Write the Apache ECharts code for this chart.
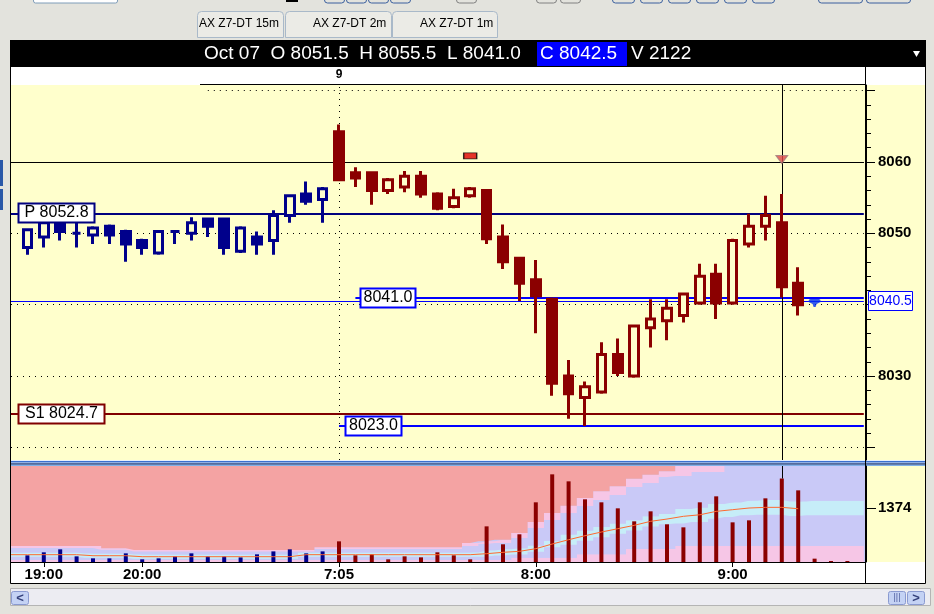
<!DOCTYPE html>
<html><head><meta charset="utf-8">
<script src="https://cdn.jsdelivr.net/npm/echarts@6/dist/echarts.min.js"></script>
<style>html,body{margin:0;padding:0;background:#e3e3dd;}#c{width:934px;height:614px;}</style>
</head><body><div id="c"></div><script>
// ---------- DATA ----------
const slots = ['0','1','2','3','4','5','6','7','8','9','10','11','12','13','14','15','16','17','18','19','20','21','22','23','24','25','26','27','28','29','30','31','32','33','34','35','36','37','38','39','40','41','42','43','44','45','46','47','48','49','50','51','52'];
const tickSlots = [2, 8, 20, 32, 44];
const tickTexts = ['19:00', '20:00', '7:05', '8:00', '9:00'];
const dayMarkSlot = 20, dayMarkText = '9';
const headerDate = 'Oct 07';

// [open, close, low, high]
const nightStart = 1;
const nightOHLC = [
 [8048.0,8050.5,8047.0,8050.5],
 [8049.5,8051.5,8048.0,8051.75],
 [8051.5,8050.25,8049.0,8051.75],
 [8050.0,8050.0,8048.0,8051.5],
 [8049.75,8050.75,8048.5,8051.0],
 [8051.0,8049.75,8048.5,8051.25],
 [8050.25,8048.5,8046.0,8050.5],
 [8049.0,8048.0,8047.0,8049.25],
 [8047.25,8050.25,8047.0,8050.25],
 [8050.25,8050.25,8048.5,8050.25],
 [8050.0,8051.5,8049.0,8052.25],
 [8052.0,8051.0,8049.5,8052.0],
 [8052.0,8048.0,8047.0,8052.0],
 [8047.5,8050.75,8047.25,8051.0],
 [8049.5,8048.5,8047.0,8050.25],
 [8049.0,8052.5,8047.0,8053.25],
 [8052.5,8055.25,8051.5,8055.25],
 [8055.5,8054.5,8054.0,8057.25],
 [8054.75,8056.25,8051.5,8056.5]
];
const dayStart = 20;
const dayOHLC = [
 [8064.25,8057.5,8057.5,8065.25],
 [8058.5,8057.75,8056.5,8059.25],
 [8058.5,8056.0,8054.0,8058.5],
 [8056.0,8057.5,8055.5,8057.75],
 [8056.5,8058.0,8055.75,8058.75],
 [8058.0,8055.5,8055.0,8058.75],
 [8055.5,8053.5,8053.25,8055.75],
 [8053.75,8055.0,8053.5,8056.25],
 [8055.25,8056.25,8055.0,8056.5],
 [8056.0,8049.25,8048.5,8056.0],
 [8049.5,8046.0,8045.0,8051.25],
 [8046.5,8043.0,8040.5,8046.5],
 [8043.5,8041.25,8036.0,8046.25],
 [8040.75,8029.0,8027.25,8041.0],
 [8030.0,8027.5,8024.0,8032.25],
 [8027.0,8028.5,8023.0,8029.25],
 [8027.75,8033.0,8027.5,8034.75],
 [8033.0,8030.5,8030.0,8035.25],
 [8030.0,8037.0,8029.75,8037.0],
 [8036.75,8038.0,8034.0,8040.75],
 [8037.75,8039.5,8035.0,8040.75],
 [8038.5,8041.5,8037.5,8041.5],
 [8040.25,8044.0,8040.0,8045.75],
 [8044.25,8040.25,8038.0,8045.75],
 [8040.25,8049.0,8040.0,8049.25],
 [8048.5,8051.0,8048.0,8052.75],
 [8051.0,8052.5,8049.0,8055.25],
 [8051.5,8042.5,8041.0,8055.5],
 [8043.0,8040.0,8038.5,8045.25]
];
const cursorSlot = 47;
const liveSlot = 49, livePrice = 8040.25;
const flagSlot = 28, flagPrice = 8060.85;
const arrowPrice = 8060.35;

// volumes from slot 1
const volStart = 1;
const volumes = [170,246,322,144,93,93,220,68,93,144,220,144,144,118,195,270,322,220,270,
 525,170,195,68,144,118,246,170,68,906,450,704,1517,2228,2050,1593,1517,1364,1034,
 1288,958,881,1517,1669,1008,1059,1618,2122,1821,85,25,25];
// volume moving average, slots 0..48
const volMA = [186,186,186,186,186,160,160,160,135,135,135,135,135,135,135,135,135,135,
 186,186,186,186,186,186,186,186,186,186,186,
 211,246,271,338,457,566,668,762,846,932,1034,1092,1161,1200,1287,1330,1372,1389,1389,1355];
// band edges, slots 0..52
const bandPinkLo = [50,50,50,50,50,50,50,50,50,50,50,50,50,50,50,50,50,50,50,50,50,50,50,50,50,50,50,50,50,50,50,
 110,110,110,110,200,200,200,330,330,330,406,406,406,406,406,406,406,406,406,406,406,406];
const bandCyanLo = [131,131,131,131,131,105,105,105,80,80,80,80,80,80,80,80,80,80,
 131,131,131,131,131,131,131,131,131,131,131,
 131,166,191,258,377,436,538,632,716,802,904,962,976,1015,1102,1145,1187,1204,1204,1170,1187,1187,1187,1187];
const bandCyanHi = [241,241,241,241,241,215,215,215,190,190,190,190,190,190,190,190,190,190,
 241,241,241,241,241,241,241,241,241,241,241,
 291,326,351,418,537,696,798,892,976,1062,1164,1222,1346,1385,1472,1515,1557,1574,1574,1540,1557,1557,1557,1557];
const bandLavHi = [356,356,356,356,356,356,310,310,270,270,270,270,270,270,270,270,270,270,270,
 330,330,330,330,330,330,330,330,330,
 406,457,483,610,864,1067,1245,1422,1575,1702,1905,2007,2159,2184,2286,2286,
 2440,2440,2440,2440,2440,2440,2440,2440,2440];
const bandPinkHi = [406,406,406,406,406,406,347,347,305,305,305,305,305,305,305,305,305,305,305,
 373,373,373,373,373,373,373,373,373,
 483,526,566,737,1016,1245,1430,1626,1796,1923,2116,2217,2304,
 2440,2440,2440,2440,2440,2440,2440,2440,2440,2440,2440,2440];
const volTop = 2440;
const volMark = 1374;

// price scale & levels
const priceMin = 8018.23, priceMax = 8070.79;
const majorTicks = [8020,8030,8040,8050,8060,8070];
const labelTicks = [8030,8040,8050,8060];
const minorTicks = [8022,8024,8026,8028,8032,8034,8036,8038,8042,8044,8046,8048,8052,8054,8056,8058,8062,8064,8066,8068];
const gridLevels = [8020,8030,8040,8050,8060];
const topGridLevel = 8070, topGridStartSlot = 12;
const pivotLevel = 8052.8;
const s1Level = 8024.7;
const levelA = 8041.0, levelAStart = 21, levelALabelSlot = 23;
const levelB = 8023.0, levelBStart = 20, levelBLabelSlot = 22;
const lastPrice = 8040.5;
const refLevel = 8060;

// ---------- COLOURS ----------
const NAVY = '#00008b', MAROON = '#8b0000', BG = '#ffffcc';
const PINK = '#f6c6e6', LAV = '#c9c9f7', CYAN = '#c6edf8', SALMON = '#f4a3a3';
const FONT = 'Liberation Sans';

const nightData = nightOHLC.map((d, k) => [nightStart + k, d[0], d[1], d[2], d[3]]);
const dayData = dayOHLC.map((d, k) => [dayStart + k, d[0], d[1], d[2], d[3]]);
const volData = slots.map((s, i) => {
  const k = i - volStart;
  if (k < 0 || k >= volumes.length) return '-';
  return {value: volumes[k], itemStyle: {color: i < dayStart ? NAVY : MAROON}};
});
const layer = (hi, lo) => slots.map((s, i) => hi[i] - (lo ? lo[i] : 0));
const topArr = slots.map(() => volTop);
const bandSeries = [
  [layer(bandPinkLo), PINK],
  [layer(bandCyanLo, bandPinkLo), LAV],
  [layer(bandCyanHi, bandCyanLo), CYAN],
  [layer(bandLavHi, bandCyanHi), LAV],
  [layer(bandPinkHi, bandLavHi), PINK],
  [layer(topArr, bandPinkHi), SALMON]
].map(([d, c]) => ({
  type: 'line', xAxisIndex: 1, yAxisIndex: 2, stack: 'bands', step: 'middle', data: d,
  symbol: 'none', silent: true, z: 1, lineStyle: {width: 0, color: c}, areaStyle: {color: c, opacity: 1}
}));

const dotted = {type: [1, 5], color: '#000', width: 1};
const candleStyle = (c) => ({color: BG, color0: c, borderColor: c, borderColor0: c, borderWidth: 3});
const plain = (v) => String(v);

const option = {
  animation: false,
  grid: [
    {left: 11, top: 85, width: 852.8, height: 375},
    {left: 11, top: 466, width: 852.8, height: 96}
  ],
  xAxis: [
    {type: 'category', gridIndex: 0, data: slots, boundaryGap: false, position: 'top',
     axisLine: {show: false}, axisTick: {show: false}, splitLine: {show: false},
     axisLabel: {interval: (i) => i === dayMarkSlot, formatter: () => dayMarkText,
       fontWeight: 'bold', fontSize: 12, fontFamily: FONT, color: '#000', margin: 4}},
    {type: 'category', gridIndex: 1, data: slots, boundaryGap: false, position: 'bottom',
     axisLine: {show: true, lineStyle: {color: '#000', width: 1}},
     axisTick: {show: true, interval: (i) => tickSlots.includes(i), length: 5, lineStyle: {color: '#000'}},
     splitLine: {show: false},
     axisLabel: {interval: (i) => tickSlots.includes(i),
       formatter: (v, i) => { const k = tickSlots.indexOf(Number(v)); return k >= 0 ? tickTexts[k] : ''; },
       fontWeight: 'bold', fontSize: 15, fontFamily: FONT, color: '#000', margin: 5}}
  ],
  yAxis: [
    {type: 'value', gridIndex: 0, position: 'right', offset: 2.2, min: priceMin, max: priceMax,
     axisLine: {show: true, lineStyle: {color: '#000', width: 1}}, splitLine: {show: false},
     axisTick: {show: true, customValues: majorTicks, length: 9, lineStyle: {color: '#000'}},
     axisLabel: {customValues: labelTicks, formatter: plain, margin: 12, fontWeight: 'bold', fontSize: 15, fontFamily: FONT, color: '#000'}},
    {type: 'value', gridIndex: 0, position: 'right', offset: 2.2, min: priceMin, max: priceMax,
     axisLine: {show: false}, splitLine: {show: false},
     axisTick: {show: true, customValues: minorTicks, length: 5, lineStyle: {color: '#000'}},
     axisLabel: {show: false}},
    {type: 'value', gridIndex: 1, position: 'right', offset: 2.2, min: 0, max: volTop,
     axisLine: {show: true, lineStyle: {color: '#000', width: 1}}, splitLine: {show: false},
     axisTick: {show: true, customValues: [volMark], length: 10, lineStyle: {color: '#000'}},
     axisLabel: {customValues: [volMark], formatter: plain, margin: 12, fontWeight: 'bold', fontSize: 15, fontFamily: FONT, color: '#000'}}
  ],
  series: [
    {type: 'candlestick', name: 'night', xAxisIndex: 0, yAxisIndex: 0, data: nightData,
     encode: {x: 0, y: [1, 2, 3, 4]}, barWidth: 9, silent: true, z: 5, itemStyle: candleStyle(NAVY)},
    {type: 'candlestick', name: 'day', xAxisIndex: 0, yAxisIndex: 0, data: dayData,
     encode: {x: 0, y: [1, 2, 3, 4]}, barWidth: 9, silent: true, z: 5, itemStyle: candleStyle(MAROON)},
    {type: 'scatter', xAxisIndex: 0, yAxisIndex: 0, data: [[flagSlot, flagPrice]], symbol: 'rect', symbolSize: [13, 6],
     silent: true, z: 6, itemStyle: {color: '#e00000', borderColor: '#000', borderWidth: 1},
     markLine: {silent: true, symbol: ['none', 'none'], label: {show: false}, z: 3,
       data: [
         ...gridLevels.map(v => ({yAxis: v, lineStyle: dotted})),
         [{coord: [topGridStartSlot, topGridLevel], lineStyle: dotted}, {coord: [52, topGridLevel]}],
         {xAxis: dayMarkSlot, lineStyle: dotted},
         {yAxis: refLevel, lineStyle: {type: 'solid', color: '#000', width: 1}},
         {yAxis: pivotLevel, lineStyle: {type: 'solid', color: '#000080', width: 2}},
         {yAxis: s1Level, lineStyle: {type: 'solid', color: '#800000', width: 2}},
         {yAxis: lastPrice, lineStyle: {type: 'solid', color: '#0000ff', width: 1}},
         [{coord: [levelAStart, levelA], lineStyle: {type: 'solid', color: '#0000ff', width: 2}}, {coord: [52, levelA]}],
         [{coord: [levelBStart, levelB], lineStyle: {type: 'solid', color: '#0000ff', width: 2}}, {coord: [52, levelB]}],
         {xAxis: cursorSlot, lineStyle: {type: 'solid', color: '#000', width: 1}}
       ]}},
    {type: 'scatter', xAxisIndex: 0, yAxisIndex: 0, data: [[cursorSlot, arrowPrice]], symbol: 'triangle', symbolRotate: 180,
     symbolSize: [12, 8], silent: true, z: 7, itemStyle: {color: '#e04848', borderColor: '#a08080', borderWidth: 1}},
    {type: 'scatter', xAxisIndex: 0, yAxisIndex: 0, data: [[liveSlot, livePrice]],
     symbol: 'path://M2,0 L10,0 Q12,0 12,2 L12,3 L8,5 L7,8 L5,8 L4,5 L0,3 L0,2 Q0,0 2,0 Z',
     symbolSize: [12, 8], silent: true, z: 7, itemStyle: {color: '#0030f0'}},
    ...bandSeries,
    {type: 'bar', xAxisIndex: 1, yAxisIndex: 2, data: volData, barWidth: 4, silent: true, z: 3,
     markLine: {silent: true, symbol: ['none', 'none'], label: {show: false},
       data: [[{coord: [cursorSlot, volTop], lineStyle: {type: 'solid', color: '#000', width: 1}},
               {coord: [cursorSlot, volumes[cursorSlot - volStart]]}]]}},
    {type: 'line', xAxisIndex: 1, yAxisIndex: 2, data: volMA, symbol: 'none', silent: true, z: 4,
     lineStyle: {color: '#ff6a30', width: 1}}
  ]
};

const chart = echarts.init(document.getElementById('c'));
chart.setOption(option);

// ---------- decorations / annotation boxes ----------
const X = (i) => chart.convertToPixel({xAxisIndex: 0}, i);
const Y = (v) => chart.convertToPixel({yAxisIndex: 0}, v);
const txt = (x, y, text, o) => Object.assign({type: 'text', x: x, y: y, z: 60,
  style: Object.assign({text: text, fill: '#000', fontSize: 16, fontFamily: FONT, verticalAlign: 'middle', align: 'left'}, o || {})});
const rect = (x, y, w, h, style, z, r) => ({type: 'rect', z: z === undefined ? -50 : z,
  shape: {x: x, y: y, width: w, height: h, r: r || 0}, style: style});
const line = (x1, y1, x2, y2, stroke, w, z) => ({type: 'line', z: z === undefined ? -40 : z,
  shape: {x1: x1, y1: y1, x2: x2, y2: y2}, style: {stroke: stroke, lineWidth: w || 1}});

const cur = dayOHLC[cursorSlot - dayStart];
const curVol = volumes[cursorSlot - volStart];
const hdrLeft = headerDate + '  O ' + cur[0].toFixed(1) + '  H ' + cur[3].toFixed(1) + '  L ' + cur[2].toFixed(1);

const els = [];
els.push(rect(0, 0, 934, 614, {fill: '#e3e3dd'}, -100));
// toolbar remnants
els.push(rect(33.5, -6, 84, 9, {fill: '#fff', stroke: '#7f9db9'}, -90, 2));
els.push(rect(286, -2, 12, 4, {fill: '#000'}, -90));
[324, 346, 368, 390].forEach(x => els.push(rect(x + 0.5, -6, 20, 9, {fill: 'none', stroke: '#3a5f9e'}, -90, 3)));
[456, 536, 560].forEach(x => els.push(rect(x + 0.5, -6, 20, 9, {fill: 'none', stroke: '#808080'}, -90, 3)));
[612, 640, 668, 696, 724, 752].forEach(x => els.push(rect(x + 0.5, -6, 22, 9, {fill: 'none', stroke: '#3a5f9e'}, -90, 3)));
[818, 866].forEach(x => els.push(rect(x + 0.5, -6, 44, 9, {fill: 'none', stroke: '#3a5f9e'}, -90, 3)));
// tabs
[[197, 86, 'AX Z7-DT 15m', 199], [285, 106, 'AX Z7-DT 2m', 313], [392, 105, 'AX Z7-DT 1m', 420]].forEach(t => {
  els.push(rect(t[0] + 0.5, 11.5, t[1], 26, {fill: '#ebebe6', stroke: '#a9b9c9'}, -90, [4, 4, 0, 0]));
  els.push(txt(t[3], 24, t[2], {fontSize: 12}));
});
// left edge bits
els.push(rect(0, 160, 3, 26, {fill: '#2a58a8'}, -90));
els.push(rect(0, 189, 3, 21, {fill: '#2a58a8'}, -90));
// frame
els.push(rect(10.5, 40.5, 915, 543, {fill: '#fff', stroke: '#000', lineWidth: 1}, -80));
els.push(rect(10, 40, 916, 27, {fill: '#000'}, -70));
els.push(rect(11, 85, 914, 375, {fill: BG}, -70));
els.push(rect(11, 466, 855, 96, {fill: LAV}, -70));
els.push(rect(866, 466, 59, 96, {fill: BG}, -70));
// separator
els.push(rect(11, 460, 914, 6, {fill: '#e8f0fa'}, -60));
els.push(rect(11, 461, 914, 1.5, {fill: '#3a70d0'}, -60));
els.push(rect(11, 463.2, 914, 1.5, {fill: '#24407e'}, -60));
els.push(rect(11, 464.8, 914, 1.2, {fill: '#80b0e8'}, -60));
// top row rule and right axis line
els.push(line(200, 84.5, 866, 84.5, '#000', 1));
els.push(line(865.5, 67, 865.5, 583, '#000', 1));
els.push(line(11, 562.5, 866, 562.5, '#000', 1));
// header text
els.push(txt(204, 54, hdrLeft, {fill: '#fff', fontSize: 19}));
els.push(rect(537, 42, 90, 24, {fill: '#0000ff'}, -60));
els.push(txt(540, 54, 'C ' + cur[1].toFixed(1), {fill: '#fff', fontSize: 19}));
els.push(txt(631, 54, 'V ' + curVol, {fill: '#fff', fontSize: 19}));
els.push({type: 'polygon', z: 60, shape: {points: [[913, 51], [920, 51], [916.5, 57]]}, style: {fill: '#fff'}});
// level label boxes
const box = (x, w, v, text, stroke, lw, color, fs) => {
  const y = Y(v);
  els.push(rect(x, Math.round(y) - 9.5, w, 19, {fill: '#fff', stroke: stroke, lineWidth: lw}, 55));
  els.push(txt(x + w / 2, Math.round(y), text, {align: 'center', fill: color || '#000', fontSize: fs || 16}));
};
box(18.5, 76, pivotLevel, 'P ' + pivotLevel.toFixed(1), '#000080', 2);
box(18.5, 86, s1Level, 'S1 ' + s1Level.toFixed(1), '#800000', 2);
box(Math.round(X(levelALabelSlot)) - 27.5, 55, levelA, levelA.toFixed(1), '#0000ff', 2);
box(Math.round(X(levelBLabelSlot)) - 26.5, 56, levelB, levelB.toFixed(1), '#0000ff', 2);
box(868.5, 44, lastPrice, lastPrice.toFixed(1), '#0000ff', 1, '#0000ff', 14);
// scrollbar
els.push(rect(10.5, 588.5, 920, 17, {fill: '#ececf2', stroke: '#b4b4b4'}, -60));
els.push(rect(11.5, 591.5, 17, 13, {fill: '#c4d2f4', stroke: '#8a9ad0'}, -55, 2));
els.push(txt(20, 598, '<', {align: 'center', fontSize: 13, fontWeight: 'bold', fill: '#34407a'}));
els.push(rect(888.5, 591.5, 17, 13, {fill: '#c4d2f4', stroke: '#8a9ad0'}, -55, 2));
els.push(txt(897, 598, '|||', {align: 'center', fontSize: 9, fill: '#5060a0'}));
els.push(rect(907.5, 591.5, 17, 13, {fill: '#c4d2f4', stroke: '#8a9ad0'}, -55, 2));
els.push(txt(916, 598, '>', {align: 'center', fontSize: 13, fontWeight: 'bold', fill: '#34407a'}));

chart.setOption({graphic: {elements: els}});
</script></body></html>
